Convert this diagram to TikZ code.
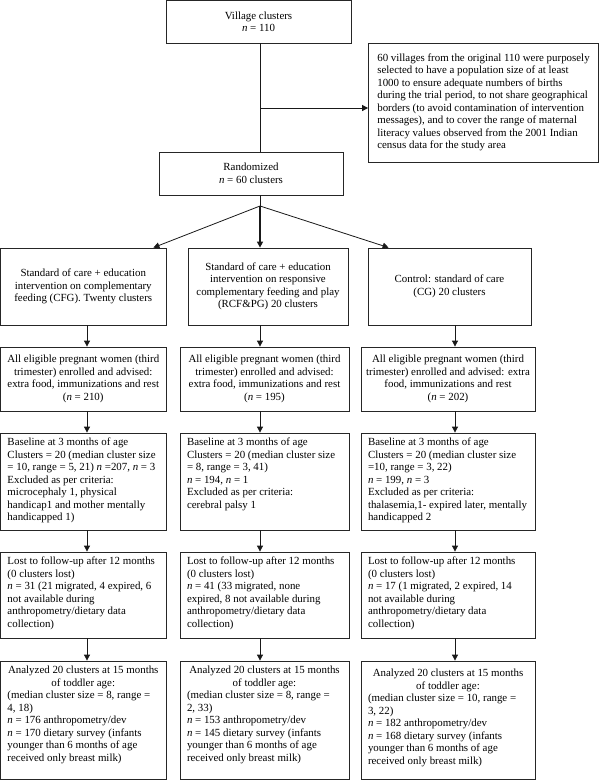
\documentclass[tikz,border=0pt]{standalone}
\usepackage{fontspec}
\setmainfont{Liberation Serif}
\usetikzlibrary{arrows.meta}
\newcommand{\celltext}[3]{\parbox[c][#2][t]{#1}{\vspace{5pt}\raggedright #3}}

\begin{document}
\begin{tikzpicture}[x=1pt, y=-1pt]
{\fontsize{10.9}{12.5}\selectfont
	\tikzstyle{box} = [rectangle, draw=black!85, line width=0.8pt, align=center, font=\fontsize{10.9}{12.5}\selectfont]
	\tikzstyle{cell} = [rectangle, draw=black!85, line width=0.8pt, inner xsep=7pt, inner ysep=0pt, font=\fontsize{10.9}{12.5}\selectfont]
	\tikzstyle{arrow} = [line width=0.8pt, draw=black!90, ->, >={Triangle[length=6pt,width=6pt]}]
	\tikzstyle{line} = [line width=0.8pt, draw=black!90]

	\useasboundingbox (0,0) rectangle (600,780);

	\node (village) [box, minimum width=185pt, minimum height=42.5pt] at (258.5,21.75) {Village clusters\\\textit{n} = 110};
	\node (note) [box, align=left, minimum width=230pt, minimum height=119pt] at (483.5,102.5) {60 villages from the original 110 were purposely\\selected to have a population size of at least\\1000 to ensure adequate numbers of births\\during the trial period, to not share geographical\\borders (to avoid contamination of intervention\\messages), and to cover the range of maternal\\literacy values observed from the 2001 Indian\\census data for the study area};
	\node (rand) [box, minimum width=184pt, minimum height=43pt] at (251,173.5) {Randomized\\\textit{n} = 60 clusters};

	% arms
	\node (cfg) [box, minimum width=165.5pt, minimum height=77pt] at (83.25,286.5) {Standard of care + education\\intervention on complementary\\feeding (CFG). Twenty clusters};
	\node (rcf) [box, minimum width=160pt, minimum height=77pt] at (268,286.5) {Standard of care + education\\intervention on responsive\\complementary feeding and play\\(RCF\&PG) 20 clusters};
	\node (cg) [box, minimum width=163pt, minimum height=77pt] at (449.5,286.5) {Control: standard of care\\(CG) 20 clusters};

	% enrolment
	\node (cfgEnrol) [box, minimum width=165.5pt, minimum height=64pt] at (83.25,379) {All eligible pregnant women (third\\trimester) enrolled and advised:\\extra food, immunizations and rest\\(\textit{n} = 210)};
	\node (rcfEnrol) [box, minimum width=169pt, minimum height=64pt] at (264.5,379) {All eligible pregnant women (third\\trimester) enrolled and advised:\\extra food, immunizations and rest\\(\textit{n} = 195)};
	\node (cgEnrol) [box, minimum width=174pt, minimum height=64pt] at (448,379) {All eligible pregnant women (third\\trimester) enrolled and advised: extra\\food, immunizations and rest\\(\textit{n} = 202)};

	% baseline
	\node (cfgBase) [cell] at (83.25,481.5) {\celltext{151.5pt}{97pt}{Baseline at 3 months of age\\Clusters = 20 (median cluster size\\= 10, range = 5, 21) \textit{n} =207, \textit{n} = 3\\Excluded as per criteria:\\microcephaly 1, physical\\handicap1 and mother mentally\\handicapped 1)}};
	\node (rcfBase) [cell] at (264.5,481.5) {\celltext{155pt}{97pt}{Baseline at 3 months of age\\Clusters = 20 (median cluster size\\= 8, range = 3, 41)\\\textit{n} = 194, \textit{n} = 1\\Excluded as per criteria:\\cerebral palsy 1}};
	\node (cgBase) [cell] at (448,481.5) {\celltext{160pt}{97pt}{Baseline at 3 months of age\\Clusters = 20 (median cluster size\\=10, range = 3, 22)\\\textit{n} = 199, \textit{n} = 3\\Excluded as per criteria:\\thalasemia,1- expired later, mentally\\handicapped 2}};

	% lost to follow-up
	\node (cfgLost) [cell] at (83.25,595) {\celltext{151.5pt}{86pt}{Lost to follow-up after 12 months\\(0 clusters lost)\\\textit{n} = 31 (21 migrated, 4 expired, 6\\not available during\\anthropometry/dietary data\\collection)}};
	\node (rcfLost) [cell] at (264.5,595) {\celltext{155pt}{86pt}{Lost to follow-up after 12 months\\(0 clusters lost)\\\textit{n} = 41 (33 migrated, none\\expired, 8 not available during\\anthropometry/dietary data\\collection)}};
	\node (cgLost) [cell] at (448,595) {\celltext{160pt}{86pt}{Lost to follow-up after 12 months\\(0 clusters lost)\\\textit{n} = 17 (1 migrated, 2 expired, 14\\not available during\\anthropometry/dietary data\\collection)}};

	% analysed
	\node (cfgAna) [cell] at (83.25,720) {\celltext{151.5pt}{118pt}{\centering Analyzed 20 clusters at 15 months\\of toddler age:\par\raggedright (median cluster size = 8, range =\\4, 18)\\\textit{n} = 176 anthropometry/dev\\\textit{n} = 170 dietary survey (infants\\younger than 6 months of age\\received only breast milk)}};
	\node (rcfAna) [cell] at (264.5,720) {\celltext{155pt}{118pt}{\centering Analyzed 20 clusters at 15 months\\of toddler age:\par\raggedright (median cluster size = 8, range =\\2, 33)\\\textit{n} = 153 anthropometry/dev\\\textit{n} = 145 dietary survey (infants\\younger than 6 months of age\\received only breast milk)}};
	\node (cgAna) [cell] at (448,720) {\celltext{160pt}{118pt}{\vspace{3pt}\centering Analyzed 20 clusters at 15 months\\of toddler age:\par\raggedright (median cluster size = 10, range =\\3, 22)\\\textit{n} = 182 anthropometry/dev\\\textit{n} = 168 dietary survey (infants\\younger than 6 months of age\\received only breast milk)}};

	\coordinate (tee) at (260,108);
	\coordinate (split) at (260,206);
	\coordinate (colA) at (87,0);
	\coordinate (colB) at (260,0);
	\coordinate (colC) at (455,0);

	\draw [line](village.south -| tee) -- (rand.north -| tee);
	\draw [arrow](tee) -- (note.west |- tee);
	\draw [line](rand.south -| split) -- (split);
	\draw [arrow](split) -- ([xshift=-13pt]cfg.north east);
	\draw [arrow, line width=1.4pt](split) -- (rcf.north -| split);
	\draw [arrow](split) -- ([xshift=21pt]cg.north west);

	\draw [arrow](cfg.south -| colA) -- (cfgEnrol.north -| colA);
	\draw [arrow](cfgEnrol.south -| colA) -- (cfgBase.north -| colA);
	\draw [arrow](cfgBase.south -| colA) -- (cfgLost.north -| colA);
	\draw [arrow](cfgLost.south -| colA) -- (cfgAna.north -| colA);
	\draw [arrow](rcf.south -| colB) -- (rcfEnrol.north -| colB);
	\draw [arrow](rcfEnrol.south -| colB) -- (rcfBase.north -| colB);
	\draw [arrow](rcfBase.south -| colB) -- (rcfLost.north -| colB);
	\draw [arrow](rcfLost.south -| colB) -- (rcfAna.north -| colB);
	\draw [arrow](cg.south -| colC) -- (cgEnrol.north -| colC);
	\draw [arrow](cgEnrol.south -| colC) -- (cgBase.north -| colC);
	\draw [arrow](cgBase.south -| colC) -- (cgLost.north -| colC);
	\draw [arrow](cgLost.south -| colC) -- (cgAna.north -| colC);
	}
\end{tikzpicture}
\end{document}
